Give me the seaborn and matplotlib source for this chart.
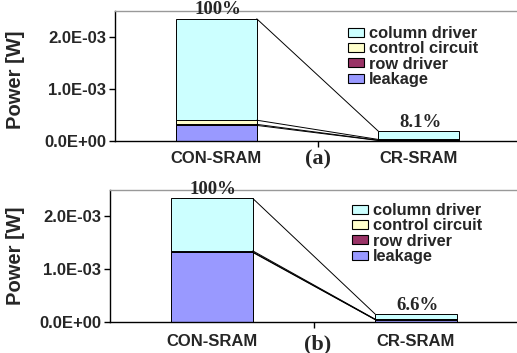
import matplotlib
matplotlib.use('Agg')
import matplotlib.pyplot as plt
import seaborn as sns
import numpy as np
import pandas as pd
from matplotlib.patches import Patch

# ---------------- data ----------------
categories = ['CON-SRAM', 'CR-SRAM']
series = ['column driver', 'control circuit', 'row driver', 'leakage']
series_colors = {'column driver': '#CCFFFF', 'control circuit': '#FFFFCC',
                 'row driver': '#993366', 'leakage': '#9999FF'}

# panel (a) power [W]
a_leakage = [0.30e-3, 0.010e-3]
a_row = [0.02e-3, 0.005e-3]
a_control = [0.08e-3, 0.015e-3]
a_column = [1.95e-3, 0.160e-3]
a_pct = ['100%', '8.1%']

# panel (b) power [W]
b_leakage = [1.32e-3, 0.050e-3]
b_row = [0.01e-3, 0.003e-3]
b_control = [0.02e-3, 0.005e-3]
b_column = [0.99e-3, 0.097e-3]
b_pct = ['100%', '6.6%']

yticks = [0.0, 1.0e-3, 2.0e-3]
ytick_labels = ['0.0E+00', '1.0E-03', '2.0E-03']
ymax = 2.5e-3

# ---------------- style ----------------
sns.set_theme(style='white')
plt.rcParams['font.family'] = ['Liberation Sans', 'DejaVu Sans']
SERIF = ['Liberation Serif', 'DejaVu Serif']

W, H = 517, 353
fig = plt.figure(figsize=(W / 100, H / 100), dpi=100)
fig.patch.set_facecolor('white')


def px_axes(left, top, right, bottom):
    return fig.add_axes([left / W, 1 - bottom / H, (right - left) / W, (bottom - top) / H])


def draw(ax, leak, row, ctrl, col, pct, tag, tag_dx, tag_y, xpad, legend_xy):
    layers = {'leakage': leak, 'row driver': row, 'control circuit': ctrl, 'column driver': col}
    order = ['leakage', 'row driver', 'control circuit', 'column driver']
    cum = np.cumsum(np.array([layers[k] for k in order]), axis=0)
    # draw tallest cumulative first, then overlay lower ones
    for i in range(len(order) - 1, -1, -1):
        df = pd.DataFrame({'cat': categories, 'val': cum[i]})
        sns.barplot(data=df, x='cat', y='val', color=series_colors[order[i]],
                    saturation=1, width=0.4, edgecolor='black', linewidth=0.7,
                    errorbar=None, ax=ax, zorder=2)
    # series lines
    for i in range(len(order)):
        ax.plot([0.2, 0.8], [cum[i][0], cum[i][1]], color='black', lw=0.7, zorder=3)
    # percentage labels
    for j in range(len(categories)):
        ax.annotate(pct[j], xy=(j, cum[-1][j]), xytext=(1, 6.5), textcoords='offset points',
                    ha='center', va='center', fontsize=13.5, fontweight='bold',
                    family=SERIF, annotation_clip=False, zorder=4)
    ax.set_xlim(-0.5, 1.5)
    ax.set_ylim(0, ymax)
    ax.set_yticks(yticks)
    ax.set_yticklabels(ytick_labels, fontsize=12, fontweight='bold')
    ax.set_xticks(range(len(categories)))
    ax.set_xticklabels(categories, fontsize=12, fontweight='bold')
    ax.set_xticks([0.5], minor=True)
    ax.tick_params(axis='x', which='major', length=0, pad=xpad)
    ax.tick_params(axis='x', which='minor', length=4, width=1, direction='out', color='black', bottom=True)
    ax.tick_params(axis='y', length=4, width=1, direction='out', color='black', left=True, pad=2.5)
    ax.set_xlabel('')
    ax.set_ylabel('Power [W]', fontsize=14.5, fontweight='bold')
    for s in ['left', 'bottom']:
        ax.spines[s].set_color('black')
        ax.spines[s].set_linewidth(1.0)
    ax.spines['top'].set_color('#999999')
    ax.spines['top'].set_linewidth(1.0)
    ax.spines['right'].set_visible(False)
    ax.text(0.5 + tag_dx, tag_y, tag, transform=ax.get_xaxis_transform(), ha='center', va='center',
            fontsize=16, fontweight='bold', family=SERIF)
    handles = [Patch(facecolor=series_colors[s], edgecolor='black', linewidth=0.8) for s in series]
    ax.legend(handles, series, loc='upper left', bbox_to_anchor=(legend_xy[0] / W, 1 - legend_xy[1] / H),
              bbox_transform=fig.transFigure, frameon=False, borderpad=0, borderaxespad=0,
              prop={'weight': 'bold', 'size': 11.8}, handlelength=0.95, handleheight=0.45,
              handletextpad=0.35, labelspacing=0.02)


ax_a = px_axes(115, 11, 520, 141)
draw(ax_a, a_leakage, a_row, a_control, a_column, a_pct, '(a)', 0.0, -0.146, 7, (348, 26))
ax_a.yaxis.set_label_coords(-0.222, 0.47)

ax_b = px_axes(110, 190, 518, 322.3)
draw(ax_b, b_leakage, b_row, b_control, b_column, b_pct, '(b)', 0.02, -0.165, 8.5, (352, 203))
ax_b.yaxis.set_label_coords(-0.208, 0.5)

fig.savefig('out.png', dpi=100, facecolor='white')
